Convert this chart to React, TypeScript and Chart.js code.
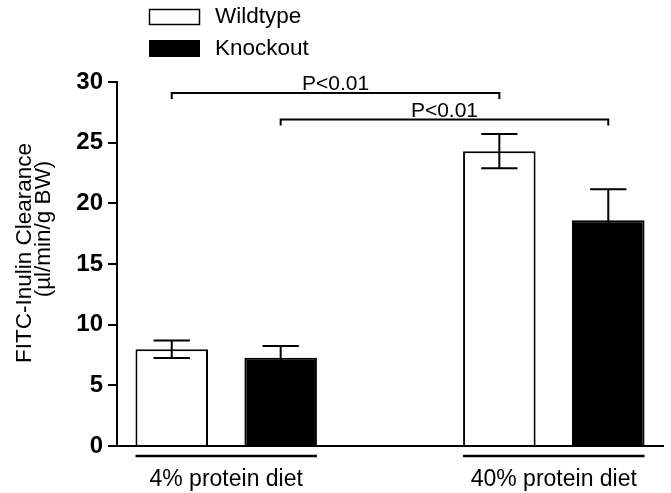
import React, { useEffect, useRef } from 'react';
import { Chart, registerables } from 'chart.js';

Chart.register(...registerables);

const categories = ['4% protein diet', '40% protein diet'];
const seriesNames = ['Wildtype', 'Knockout'];
const wildtypeMean = [7.97, 24.3];
const wildtypeSem = [0.72, 1.41];
const knockoutMean = [7.28, 18.6];
const knockoutSem = [0.96, 2.56];
const yTickStep = 5;
const yMin = 0;
const yMax = 30;
const sigLabels = ['P<0.01', 'P<0.01'];
const sigLevels = [29.1, 26.9];
const yTitle = ['FITC-Inulin Clearance', '(\u00b5l/min/g BW)'];

const FONT = '"Liberation Sans", Arial, Helvetica, sans-serif';

const overlayPlugin = {
  id: 'overlay',
  afterDatasetsDraw(chart: any) {
    const ctx = chart.ctx;
    const y = chart.scales.y;
    const ca = chart.chartArea;
    ctx.save();
    ctx.strokeStyle = '#000';
    ctx.fillStyle = '#000';
    ctx.lineWidth = 2;
    ctx.lineCap = 'butt';

    // error bars
    const series = [
      [wildtypeMean, wildtypeSem],
      [knockoutMean, knockoutSem],
    ];
    series.forEach(([m, s], d) => {
      const meta = chart.getDatasetMeta(d);
      meta.data.forEach((bar: any, i: number) => {
        const x = bar.x;
        const half = bar.width / 4;
        const top = y.getPixelForValue(m[i] + s[i]);
        const bot = y.getPixelForValue(m[i] - s[i]);
        ctx.beginPath();
        ctx.moveTo(x, top);
        ctx.lineTo(x, bot);
        ctx.moveTo(x - half, top);
        ctx.lineTo(x + half, top);
        ctx.moveTo(x - half, bot);
        ctx.lineTo(x + half, bot);
        ctx.stroke();
      });
    });

    // significance brackets
    ctx.font = `21px ${FONT}`;
    ctx.textAlign = 'center';
    ctx.textBaseline = 'alphabetic';
    sigLevels.forEach((lvl, d) => {
      const meta = chart.getDatasetMeta(d);
      const x0 = meta.data[0].x;
      const x1 = meta.data[1].x;
      const yy = y.getPixelForValue(lvl);
      ctx.beginPath();
      ctx.moveTo(x0, yy + 6);
      ctx.lineTo(x0, yy);
      ctx.lineTo(x1, yy);
      ctx.lineTo(x1, yy + 6);
      ctx.stroke();
      ctx.fillText(sigLabels[d], (x0 + x1) / 2, yy - 3);
    });

    // group underlines
    ctx.lineWidth = 2.5;
    categories.forEach((_, i) => {
      const a = chart.getDatasetMeta(0).data[i];
      const b = chart.getDatasetMeta(1).data[i];
      const left = a.x - a.width / 2;
      const right = b.x + b.width / 2;
      const yy = ca.bottom + 10;
      ctx.beginPath();
      ctx.moveTo(left, yy);
      ctx.lineTo(right, yy);
      ctx.stroke();
    });
    ctx.restore();
  },
  afterDraw(chart: any) {
    const ctx = chart.ctx;
    const ca = chart.chartArea;
    ctx.save();
    // legend
    ctx.lineWidth = 1.5;
    ctx.strokeStyle = '#000';
    ctx.fillStyle = '#fff';
    ctx.fillRect(149.5, 9.5, 50, 15);
    ctx.strokeRect(149.5, 9.5, 50, 15);
    ctx.fillStyle = '#000';
    ctx.fillRect(149, 40, 51, 17);
    ctx.font = `22.5px ${FONT}`;
    ctx.textAlign = 'left';
    ctx.textBaseline = 'middle';
    ctx.fillText(seriesNames[0], 215, 17);
    ctx.fillText(seriesNames[1], 215, 49);

    // y title
    const mid = (ca.top + ca.bottom) / 2;
    ctx.textAlign = 'center';
    ctx.textBaseline = 'alphabetic';
    ctx.font = `22.5px ${FONT}`;
    ctx.save();
    ctx.translate(31, mid - 11);
    ctx.rotate(-Math.PI / 2);
    ctx.fillText(yTitle[0], 0, 0);
    ctx.restore();
    ctx.save();
    ctx.translate(50, mid - 35);
    ctx.rotate(-Math.PI / 2);
    ctx.fillText(yTitle[1], 0, 0);
    ctx.restore();
    ctx.restore();
  },
};

export default function App() {
  const ref = useRef<HTMLCanvasElement>(null);
  useEffect(() => {
    if (!ref.current) return;
    const chart = new Chart(ref.current, {
      type: 'bar',
      data: {
        datasets: [
          {
            label: seriesNames[0],
            data: wildtypeMean.map((v, i) => ({ x: i, y: v })),
            backgroundColor: '#ffffff',
            borderColor: '#000000',
            borderWidth: 2,
            categoryPercentage: 0.665,
            barPercentage: 0.666,
          },
          {
            label: seriesNames[1],
            data: knockoutMean.map((v, i) => ({ x: i, y: v })),
            backgroundColor: '#000000',
            borderColor: '#000000',
            borderWidth: 2,
            categoryPercentage: 0.665,
            barPercentage: 0.666,
          },
        ] as any,
      },
      options: {
        animation: false,
        responsive: true,
        maintainAspectRatio: false,
        layout: { padding: { top: 82, right: 8, left: 0, bottom: 0 } },
        plugins: { legend: { display: false }, tooltip: { enabled: false } },
        scales: {
          x: {
            type: 'linear',
            min: -1 / 3,
            max: 4 / 3,
            offset: false,
            grid: { display: false },
            border: { display: true, color: '#000', width: 2 },
            afterBuildTicks: (s: any) => {
              s.ticks = categories.map((_, i) => ({ value: i }));
            },
            afterFit: (s: any) => {
              s.height = 47;
            },
            ticks: {
              callback: (_v: any, i: number) => categories[i],
              color: '#000',
              font: { family: FONT, size: 23 },
              padding: 12,
              maxRotation: 0,
              autoSkip: false,
            },
          },
          y: {
            min: yMin,
            max: yMax,
            grid: {
              display: true,
              drawOnChartArea: false,
              drawTicks: true,
              tickLength: 9,
              color: '#000',
              lineWidth: 2,
            },
            border: { display: true, color: '#000', width: 2 },
            afterFit: (s: any) => {
              s.width = 117;
            },
            ticks: {
              stepSize: yTickStep,
              color: '#000',
              padding: 5,
              font: { family: FONT, size: 24, weight: 'bold' },
            },
          },
        } as any,
      },
      plugins: [overlayPlugin],
    });
    return () => chart.destroy();
  }, []);
  return (
    <div style={{ position: 'absolute', left: 0, top: 0, width: 671, height: 493, background: '#fff' }}>
      <canvas ref={ref} />
    </div>
  );
}
